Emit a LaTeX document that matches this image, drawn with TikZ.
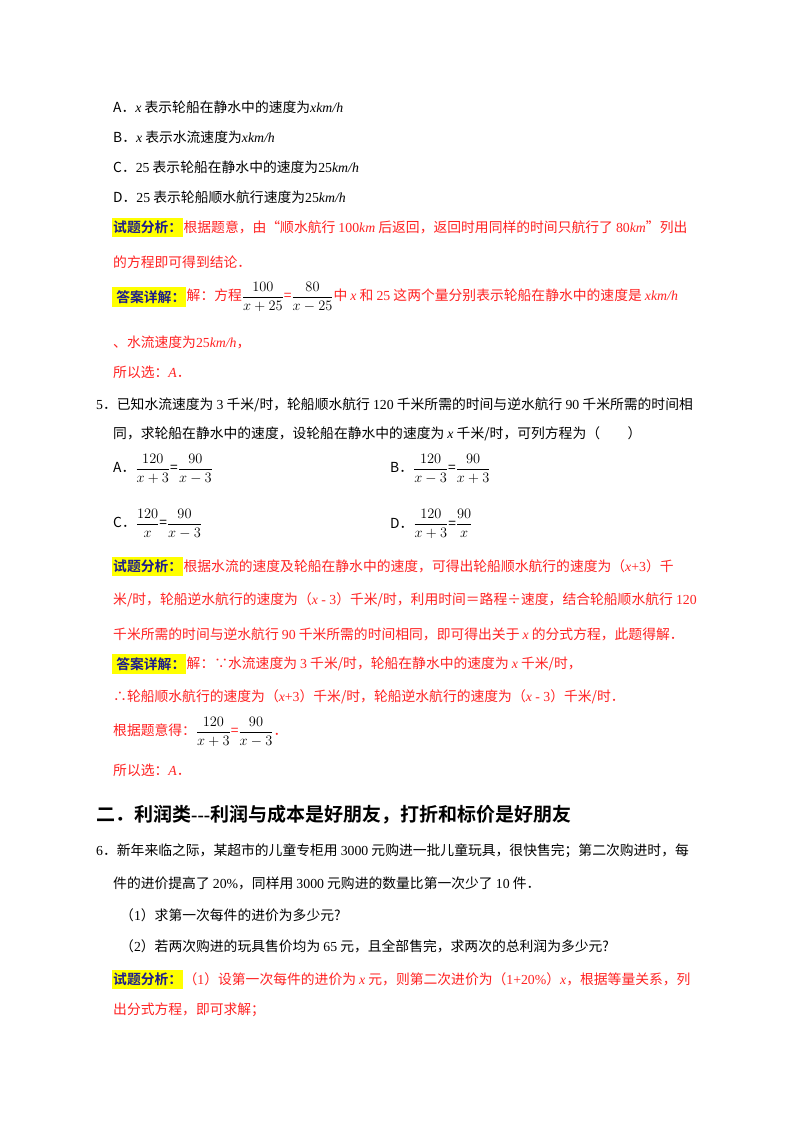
\documentclass[tikz,border=0pt]{standalone}
\usepackage{amsmath}
\usepackage{fontspec}
\setmainfont{Noto Sans CJK SC}[BoldFont={Noto Sans CJK SC Bold}]
\newfontfamily\lat{Liberation Serif}
\newcommand\nm[1]{{\lat #1}}
\newcommand\iv[1]{{\lat\itshape #1}}
\newcommand\fr[2]{\textcolor{black}{\fontsize{15}{17}\selectfont$\dfrac{#1}{#2}$}}
\definecolor{rd}{HTML}{FF2222}
\definecolor{lb}{HTML}{1C1C8C}
\definecolor{yl}{HTML}{FFFF00}
\begin{document}
\begin{tikzpicture}[x=1pt,y=-1pt,
  txt/.style={anchor=west,inner sep=0pt,font=\fontsize{13.8}{16}\selectfont},
  rtxt/.style={txt,text=rd},
  lab/.style={anchor=west,inner xsep=1pt,inner ysep=3pt,fill=yl,text=lb,font=\fontsize{13.8}{16}\selectfont\bfseries},
  head/.style={anchor=west,inner sep=0pt,font=\fontsize{19}{22}\selectfont\bfseries}]
\fill[white] (0,0) rectangle (800,1132);
\useasboundingbox (0,0) rectangle (800,1132);
\node[txt] (a) at (113,107) {A．\iv{x} 表示轮船在静水中的速度为\iv{xkm/h}};
\node[txt] (b) at (113,137) {B．\iv{x} 表示水流速度为\iv{xkm/h}};
\node[txt] (c) at (113,167) {C．\nm{25} 表示轮船在静水中的速度为\nm{25}\iv{km/h}};
\node[txt] (d) at (113,197) {D．\nm{25} 表示轮船顺水航行速度为\nm{25}\iv{km/h}};
\node[lab] (l1) at (112,227) {试题分析：};
\node[rtxt] (t1) at (l1.east) {根据题意，由“顺水航行 \nm{100}\iv{km} 后返回，返回时用同样的时间只航行了 \nm{80}\iv{km}”列出};
\node[rtxt] (t1b) at (113,262) {的方程即可得到结论．};
\node[lab] (l2) at (112,297) {\ 答案详解：};
\node[rtxt] (t2) at (l2.east) {解：方程\fr{100}{x+25}=\fr{80}{x-25}中 \iv{x} 和 \nm{25} 这两个量分别表示轮船在静水中的速度是 \iv{xkm/h}};
\node[rtxt] (t2b) at (113,342) {、水流速度为\nm{25}\iv{km/h}，};
\node[rtxt] (t2c) at (113,372) {所以选：\iv{A}．};
\node[txt] (q5) at (96,405) {\nm{5}．已知水流速度为 \nm{3} 千米/时，轮船顺水航行 \nm{120} 千米所需的时间与逆水航行 \nm{90} 千米所需的时间相};
\node[txt] (q5b) at (113,434) {同，求轮船在静水中的速度，设轮船在静水中的速度为 \iv{x} 千米/时，可列方程为（\qquad）};
\node[txt] (oa) at (113,469) {A．\fr{120}{x+3}=\fr{90}{x-3}};
\node[txt] (ob) at (390,469) {B．\fr{120}{x-3}=\fr{90}{x+3}};
\node[txt] (oc) at (113,524) {C．\fr{120}{x}=\fr{90}{x-3}};
\node[txt] (od) at (390,524) {D．\fr{120}{x+3}=\fr{90}{x}};
\node[lab] (l3) at (112,566) {试题分析：};
\node[rtxt] (t3) at (l3.east) {根据水流的速度及轮船在静水中的速度，可得出轮船顺水航行的速度为（\iv{x}\nm{+3}）千};
\node[rtxt] (t3b) at (113,600) {米/时，轮船逆水航行的速度为（\iv{x}\nm{ - 3}）千米/时，利用时间＝路程÷速度，结合轮船顺水航行 \nm{120}};
\node[rtxt] (t3c) at (113,634) {千米所需的时间与逆水航行 \nm{90} 千米所需的时间相同，即可得出关于 \iv{x} 的分式方程，此题得解．};
\node[lab] (l4) at (112,664) {\ 答案详解：};
\node[rtxt] (t4) at (l4.east) {解：∵水流速度为 \nm{3} 千米/时，轮船在静水中的速度为 \iv{x} 千米/时，};
\node[rtxt] (t4b) at (113,697) {∴轮船顺水航行的速度为（\iv{x}\nm{+3}）千米/时，轮船逆水航行的速度为（\iv{x}\nm{ - 3}）千米/时．};
\node[rtxt] (t4c) at (113,732) {根据题意得：\fr{120}{x+3}=\fr{90}{x-3}．};
\node[rtxt] (t4d) at (113,770) {所以选：\iv{A}．};
\node[head] (h) at (96,815) {二．利润类\nm{---}利润与成本是好朋友，打折和标价是好朋友};
\node[txt] (q6) at (96,851) {\nm{6}．新年来临之际，某超市的儿童专柜用 \nm{3000} 元购进一批儿童玩具，很快售完；第二次购进时，每};
\node[txt] (q6b) at (113,883) {件的进价提高了 \nm{20\%}，同样用 \nm{3000} 元购进的数量比第一次少了 \nm{10} 件．};
\node[txt] (q6c) at (120,915) {（\nm{1}）求第一次每件的进价为多少元?};
\node[txt] (q6d) at (120,946) {（\nm{2}）若两次购进的玩具售价均为 \nm{65} 元，且全部售完，求两次的总利润为多少元?};
\node[lab] (l5) at (112,979) {试题分析：};
\node[rtxt] (t5) at (l5.east) {（\nm{1}）设第一次每件的进价为 \iv{x} 元，则第二次进价为（\nm{1+20\%}）\iv{x}，根据等量关系，列};
\node[rtxt] (t5b) at (113,1010) {出分式方程，即可求解；};
\end{tikzpicture}
\end{document}
